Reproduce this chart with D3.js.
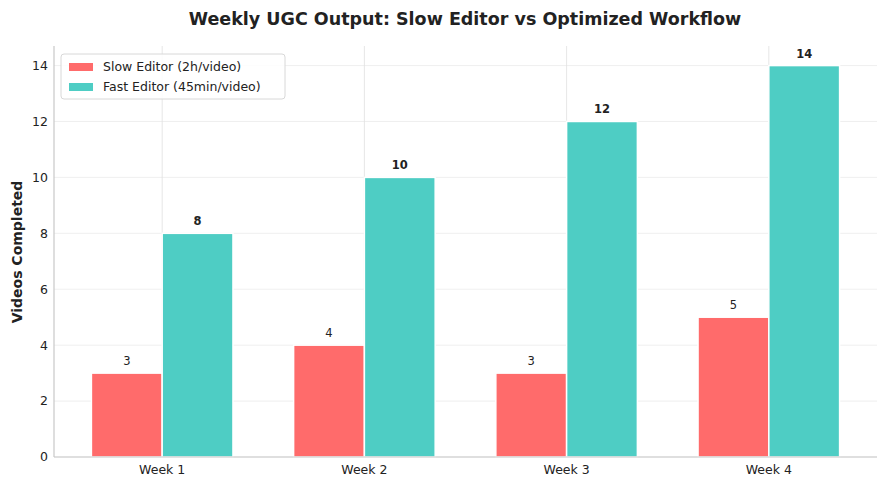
<!DOCTYPE html>
<html><head><meta charset="utf-8">
<script src="https://cdn.jsdelivr.net/npm/d3@7"></script>
<style>body{margin:0;background:#fff;font-family:"DejaVu Sans",sans-serif}</style>
</head><body><svg id="c" width="887" height="486"></svg>
<script>
const categories=["Week 1","Week 2","Week 3","Week 4"];
const slowValues=[3,4,3,5];
const fastValues=[8,10,12,14];
const seriesNames=["Slow Editor (2h/video)","Fast Editor (45min/video)"];
const yTicks=[0,2,4,6,8,10,12,14];
const colors=["#FF6B6B","#4ECDC4"];

const svg=d3.select("#c");
const L=54,R=877,T=46,B=457;
const bw=0.35;
const x=d3.scaleLinear().domain([-0.535,3.535]).range([L,R]);
const y=d3.scaleLinear().domain([0,14.7]).range([B,T]);

// grid
svg.append("g").selectAll("line").data(yTicks).join("line")
 .attr("x1",L).attr("x2",R).attr("y1",d=>y(d)).attr("y2",d=>y(d))
 .attr("stroke","#ebebeb").attr("stroke-width",0.8);
svg.append("g").selectAll("line").data(categories).join("line")
 .attr("x1",(d,i)=>x(i)).attr("x2",(d,i)=>x(i)).attr("y1",T).attr("y2",B)
 .attr("stroke","#e0e0e0").attr("stroke-width",0.8);

// bars
const series=[slowValues,fastValues];
series.forEach((vals,s)=>{
  const off=s===0?-bw/2:bw/2;
  svg.append("g").selectAll("rect").data(vals).join("rect")
   .attr("x",(d,i)=>x(i+off-bw/2)).attr("width",x(bw)-x(0))
   .attr("y",d=>y(d)).attr("height",d=>B-y(d))
   .attr("fill",colors[s]).attr("stroke","#fff").attr("stroke-width",1.5);
  svg.append("g").selectAll("text").data(vals).join("text")
   .attr("x",(d,i)=>x(i+off)).attr("y",d=>y(d)-8)
   .attr("text-anchor","middle").attr("font-size",11.5)
   .attr("font-weight",s===1?"bold":"normal").attr("fill","#222")
   .text(d=>d);
});

// spines
svg.append("line").attr("x1",L).attr("x2",L).attr("y1",T).attr("y2",B).attr("stroke","#c8c8c8").attr("stroke-width",1.2);
svg.append("line").attr("x1",L).attr("x2",R).attr("y1",B).attr("y2",B).attr("stroke","#c8c8c8").attr("stroke-width",1.2);

// tick labels
svg.append("g").selectAll("text").data(yTicks).join("text")
 .attr("x",L-6).attr("y",d=>y(d)).attr("dy","0.35em").attr("text-anchor","end")
 .attr("font-size",12.5).attr("fill","#222").text(d=>d);
svg.append("g").selectAll("text").data(categories).join("text")
 .attr("x",(d,i)=>x(i)).attr("y",B+17).attr("text-anchor","middle")
 .attr("font-size",12.5).attr("fill","#222").text(d=>d);

svg.append("text").attr("x",465).attr("y",25).attr("text-anchor","middle")
 .attr("font-size",17.5).attr("font-weight","bold").attr("fill","#222")
 .text("Weekly UGC Output: Slow Editor vs Optimized Workflow");
svg.append("text").attr("transform","translate(22,252) rotate(-90)").attr("text-anchor","middle")
 .attr("font-size",14).attr("font-weight","bold").attr("fill","#222").text("Videos Completed");

// legend
const lg=svg.append("g").attr("transform","translate(61,54)");
lg.append("rect").attr("width",224).attr("height",45).attr("rx",3).attr("fill","#fff").attr("fill-opacity",0.85).attr("stroke","#d8d8d8");
seriesNames.forEach((n,i)=>{
  lg.append("rect").attr("x",8).attr("y",9+i*20).attr("width",24).attr("height",8).attr("fill",colors[i]);
  lg.append("text").attr("x",42).attr("y",13+i*20).attr("dy","0.35em").attr("font-size",12.5).attr("fill","#222").text(n);
});
</script></body></html>
